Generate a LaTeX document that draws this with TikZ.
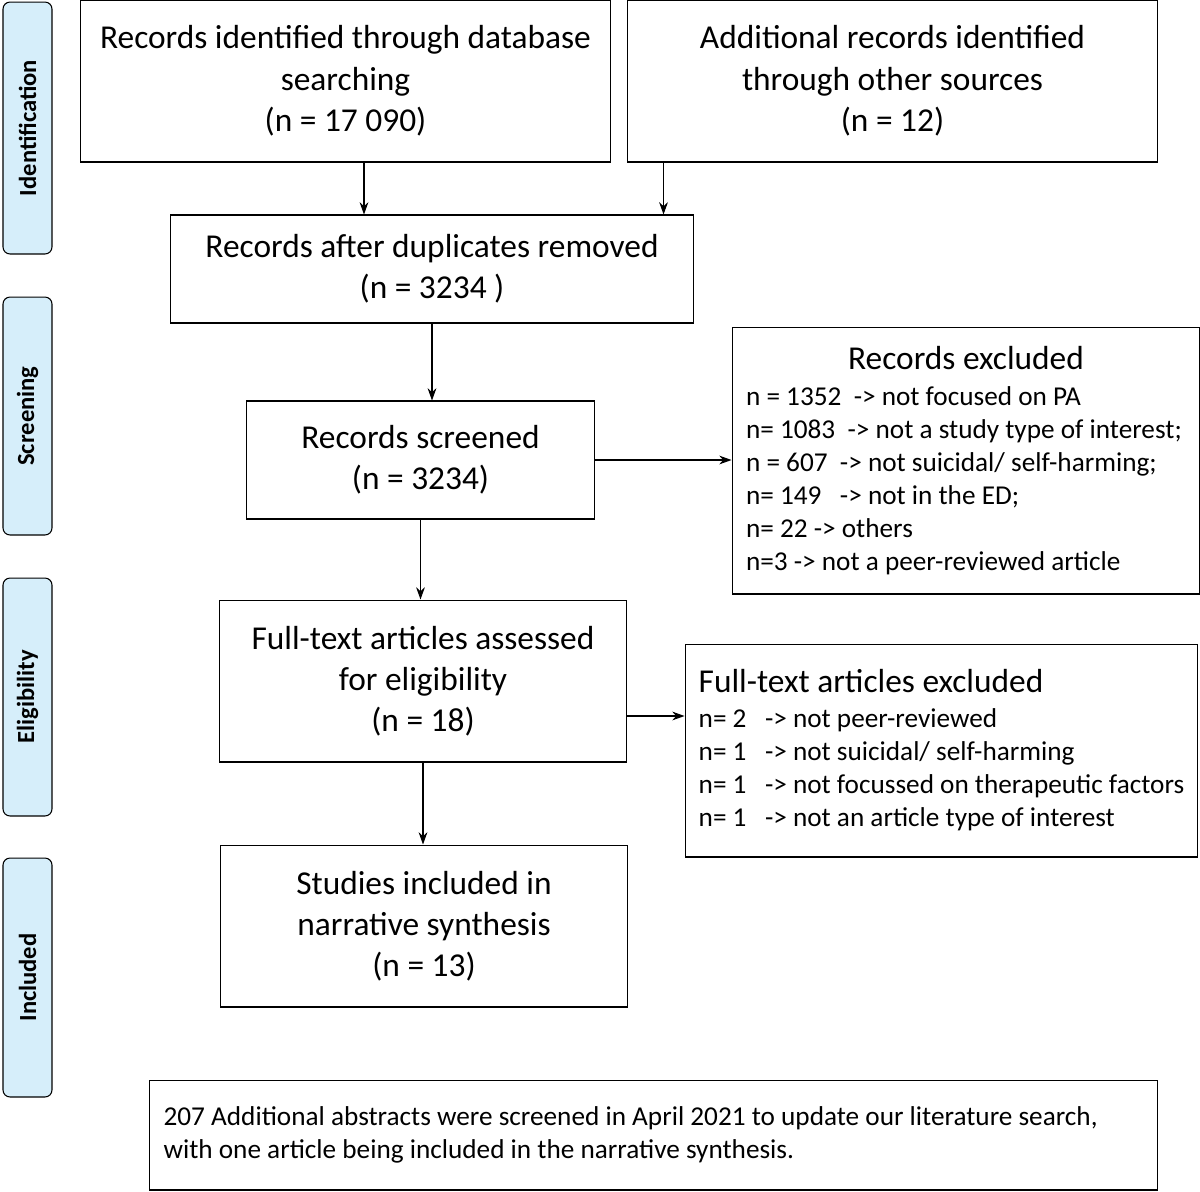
\documentclass[tikz,border=0pt]{standalone}
\usepackage{fontspec}
\setmainfont{Carlito}
\usetikzlibrary{arrows.meta}
\definecolor{phaseblue}{RGB}{214,238,250}

\tikzset{
  flowbox/.style={draw, line width=0.6pt, align=center, inner sep=0pt,
    font=\fontsize{19}{23.5}\selectfont},
  listbox/.style={draw, line width=0.6pt, align=flush left, inner sep=0pt,
    font=\fontsize{15.5}{18.8}\selectfont},
  phase/.style={draw, line width=0.6pt, fill=phaseblue, rounded corners=4pt,
    inner sep=0pt, minimum height=0.98cm, rotate=90,
    font=\fontsize{14}{16}\selectfont\bfseries},
  flow/.style={-{Stealth[length=7pt,width=5pt]}, line width=0.6pt}
}

\begin{document}
\begin{tikzpicture}[x=0.02cm, y=-0.02cm]
\useasboundingbox (0,0) rectangle (1200,1191);

% Phase labels
\node[phase, minimum width=5.04cm] (idf) at (27.5,128) {Identification};
\node[phase, minimum width=4.76cm] (scr) at (27.5,416) {Screening};
\node[phase, minimum width=4.76cm] (elg) at (27.5,697) {Eligibility};
\node[phase, minimum width=4.78cm] (inc) at (27.5,977.5) {Included};

% Boxes
\node[flowbox, minimum width=10.62cm, minimum height=3.24cm] (db) at (345.5,81)
  {Records identified through database\\searching\\(n = 17 090)};
\node[flowbox, minimum width=10.62cm, minimum height=3.24cm] (other) at (892.5,81)
  {Additional records identified\\through other sources\\(n = 12)};
\node[flowbox, minimum width=10.48cm, minimum height=2.16cm] (dup) at (432,269)
  {Records after duplicates removed\\(n = 3234 )};
\node[flowbox, minimum width=6.98cm, minimum height=2.36cm] (screen) at (420.5,460)
  {Records screened\\(n = 3234)};
\node[listbox, minimum width=9.36cm, minimum height=5.34cm] (recex) at (966,460.5)
  {\makebox[8.8cm]{\fontsize{19}{23.5}\selectfont Records excluded}\\[2pt]
   n = 1352\ \ -> not focused on PA\\
   n= 1083\ \ -> not a study type of interest;\\
   n = 607\ \ -> not suicidal/ self-harming;\\
   n= 149\ \ \ -> not in the ED;\\
   n= 22 -> others\\
   n=3 -> not a peer-reviewed article};
\node[flowbox, minimum width=8.16cm, minimum height=3.24cm] (full) at (423,681)
  {Full-text articles assessed\\for eligibility\\(n = 18)};
\node[listbox, minimum width=10.26cm, minimum height=4.26cm] (fullex) at (941.5,750.5)
  {{\fontsize{19}{23.5}\selectfont Full-text articles excluded}\\[1pt]
   n= 2\ \ \ -> not peer-reviewed\\
   n= 1\ \ \ -> not suicidal/ self-harming\\
   n= 1\ \ \ -> not focussed on therapeutic factors\\
   n= 1\ \ \ -> not an article type of interest};
\node[listbox, minimum width=20.18cm, minimum height=2.2cm, text width=19.6cm] (note) at (653.5,1135)
  {207 Additional abstracts were screened in April 2021 to update our literature search,\\
   with one article being included in the narrative synthesis.};
\node[flowbox, minimum width=8.16cm, minimum height=3.24cm] (incl) at (424,926)
  {Studies included in\\narrative synthesis\\(n = 13)};

% Arrows
\draw[flow] ([xshift=0.37cm]db.south) -- ([xshift=0.37cm]db.south |- dup.north);
\draw[flow] ([xshift=0.74cm]other.south west) -- ([xshift=0.74cm]other.south west |- dup.north);
\draw[flow] (dup.south) -- (dup.south |- screen.north);
\draw[flow] (screen.east) -- (screen.east -| recex.west);
\draw[flow] (screen.south) -- (screen.south |- full.north);
\draw[flow] ([yshift=-0.7cm]full.east) -- ([yshift=-0.7cm]full.east -| fullex.west);
\draw[flow] (full.south) -- (full.south |- incl.north);
\end{tikzpicture}
\end{document}
